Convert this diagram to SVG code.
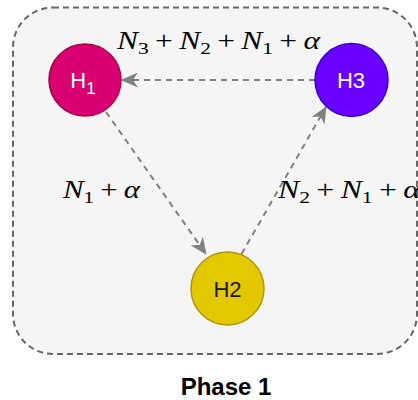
<svg xmlns="http://www.w3.org/2000/svg" width="418" height="400" viewBox="0 0 418 400">
  <defs>
    <marker id="arrow" markerUnits="userSpaceOnUse" viewBox="0 0 17 15" markerWidth="17" markerHeight="15" refX="16" refY="7.5" orient="auto">
      <path d="M0,0 L17,7.5 L0,15 L5,7.5 Z" fill="#808080"/>
    </marker>
    <style>
      .container { fill: #f5f5f5; stroke: #666666; stroke-width: 2; stroke-dasharray: 6 4; }
      .edge { fill: none; stroke: #808080; stroke-width: 2; stroke-dasharray: 6 5; marker-end: url(#arrow); }
      .node-label { font-family: "Liberation Sans", Arial, sans-serif; font-size: 22px; text-anchor: middle; }
      .math { font-family: "Liberation Serif", "Times New Roman", serif; font-size: 25px; fill: #000000; }
      .i { font-style: italic; }
      .sub { font-size: 17px; }
      .title { font-family: "Liberation Sans", Arial, sans-serif; font-size: 24px; font-weight: bold; text-anchor: middle; fill: #000000; }
    </style>
  </defs>

  <rect id="phase-container" class="container" x="13" y="7.5" width="404" height="346.5" rx="40" ry="40"/>

  <g id="connectors">
    <path id="e-h3-h1" class="edge" d="M315,80 L122,80"/>
    <path id="e-h1-h2" class="edge" d="M106,112 L206,254"/>
    <path id="e-h2-h3" class="edge" d="M241.5,254 L326,107"/>
  </g>

  <g id="labels">
    <text class="math" x="117" y="49" textLength="203" lengthAdjust="spacingAndGlyphs"><tspan class="i">N</tspan><tspan class="sub" dy="5">3</tspan><tspan dx="5" dy="-5">+</tspan><tspan class="i" dx="5">N</tspan><tspan class="sub" dy="5">2</tspan><tspan dx="5" dy="-5">+</tspan><tspan class="i" dx="5">N</tspan><tspan class="sub" dy="5">1</tspan><tspan dx="5" dy="-5">+</tspan><tspan class="i" dx="5">α</tspan></text>
    <text class="math" x="63" y="198" textLength="77" lengthAdjust="spacingAndGlyphs"><tspan class="i">N</tspan><tspan class="sub" dy="5">1</tspan><tspan dx="5" dy="-5">+</tspan><tspan class="i" dx="5">α</tspan></text>
    <text class="math" x="278" y="198" textLength="142" lengthAdjust="spacingAndGlyphs"><tspan class="i">N</tspan><tspan class="sub" dy="5">2</tspan><tspan dx="5" dy="-5">+</tspan><tspan class="i" dx="5">N</tspan><tspan class="sub" dy="5">1</tspan><tspan dx="5" dy="-5">+</tspan><tspan class="i" dx="5">α</tspan></text>
  </g>

  <g id="node-h1">
    <circle cx="85" cy="80" r="36" fill="#d80073" stroke="#a50040" stroke-width="1.5"/>
    <text class="node-label" x="83" y="88" fill="#ffffff">H<tspan font-size="17" dy="6">1</tspan></text>
  </g>

  <g id="node-h3">
    <circle cx="351.5" cy="80" r="36.5" fill="#6a00ff" stroke="#3700cc" stroke-width="1.5"/>
    <text class="node-label" x="351" y="88" fill="#ffffff">H3</text>
  </g>

  <g id="node-h2">
    <circle cx="227.5" cy="288.5" r="36.5" fill="#e3c800" stroke="#b09500" stroke-width="1.5"/>
    <text class="node-label" x="227.5" y="297" fill="#1a1a1a">H2</text>
  </g>

  <text id="phase-title" class="title" x="226" y="395">Phase 1</text>
</svg>
